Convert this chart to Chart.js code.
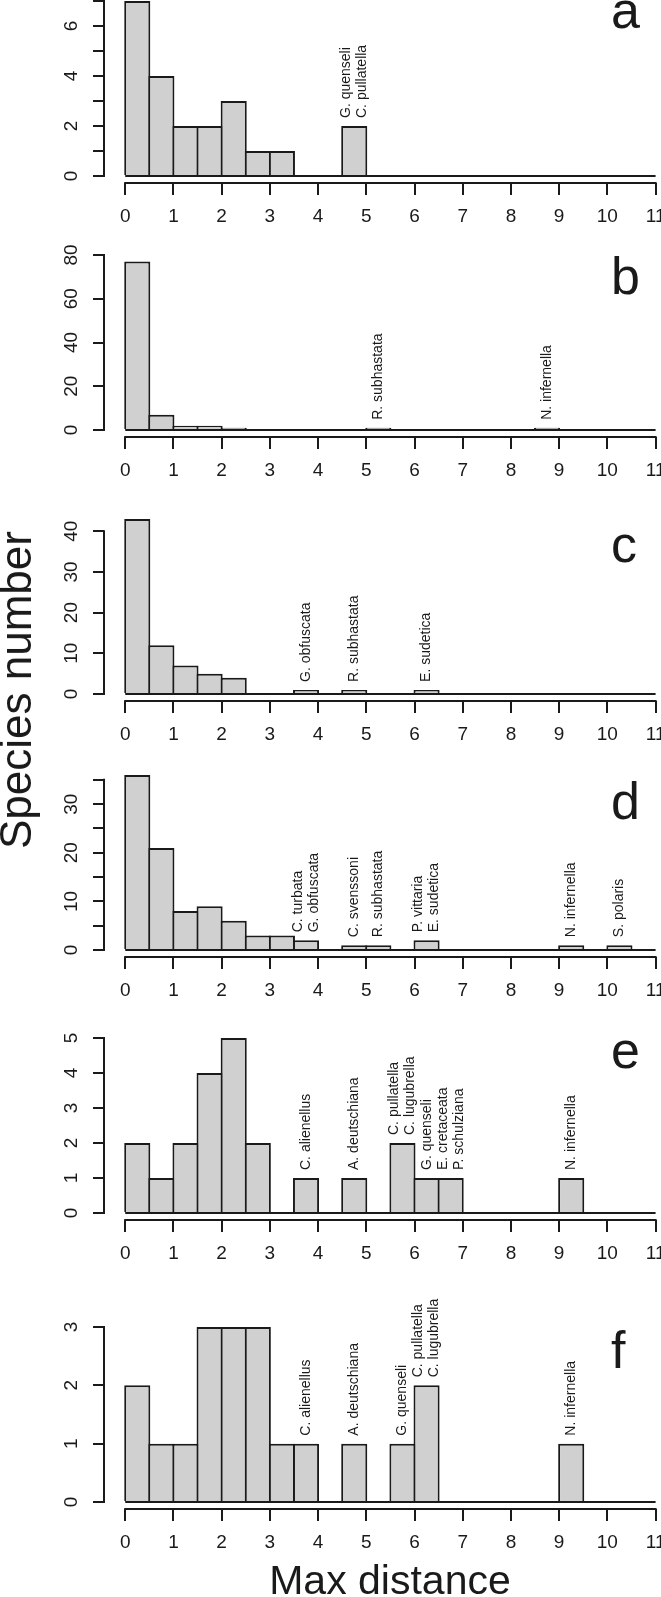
<!DOCTYPE html>
<html>
<head>
<meta charset="utf-8">
<script src="https://cdn.jsdelivr.net/npm/chart.js@4.4.0/dist/chart.umd.min.js"></script>
<style>
  html, body { margin: 0; padding: 0; width: 661px; height: 1597px; overflow: hidden; background: #fff; }
  body { position: relative; font-family: "Liberation Sans", Arial, sans-serif; color: #1a1a1a; }
  .panel { position: absolute; left: 0; width: 700px; height: 289px; }
  .letter { position: absolute; left: 611px; font-size: 52px; line-height: 52px; }
  .ylab { position: absolute; left: 16px; top: 690px; font-size: 44px; line-height: 44px; white-space: nowrap;
          transform: translate(-50%, -50%) rotate(-90deg); }
  .xlab { position: absolute; left: 190px; width: 400px; top: 1560px; text-align: center; font-size: 41px; line-height: 41px; white-space: nowrap; }
</style>
</head>
<body>

<script>
// histogram bins (0.5 wide, centres) and x ticks
const bins = [0.25, 0.75, 1.25, 1.75, 2.25, 2.75, 3.25, 3.75, 4.25, 4.75, 5.25,
              5.75, 6.25, 6.75, 7.25, 7.75, 8.25, 8.75, 9.25, 9.75, 10.25, 10.75];
const xTicks = [0, 1, 2, 3, 4, 5, 6, 7, 8, 9, 10, 11];

// species counts per bin
const countsA = [7, 4, 2, 2, 3, 1, 1, 0, 0, 2, 0, 0, 0, 0, 0, 0, 0, 0, 0, 0, 0, 0];
const countsB = [77, 7, 2, 2, 1, 0, 0, 0, 0, 0, 1, 0, 0, 0, 0, 0, 0, 1, 0, 0, 0, 0];
const countsC = [43, 12, 7, 5, 4, 0, 0, 1, 0, 1, 0, 0, 1, 0, 0, 0, 0, 0, 0, 0, 0, 0];
const countsD = [36, 21, 8, 9, 6, 3, 3, 2, 0, 1, 1, 0, 2, 0, 0, 0, 0, 0, 1, 0, 1, 0];
const countsE = [2, 1, 2, 4, 5, 2, 0, 1, 0, 1, 0, 2, 1, 1, 0, 0, 0, 0, 1, 0, 0, 0];
const countsF = [2, 1, 1, 3, 3, 3, 1, 1, 0, 1, 0, 1, 2, 0, 0, 0, 0, 0, 1, 0, 0, 0];

// y ticks and which of them carry a label
const yTicksA = [0, 1, 2, 3, 4, 5, 6, 7];
const yLabelsA = [0, 2, 4, 6];
const yTicksB = [0, 20, 40, 60, 80];
const yLabelsB = [0, 20, 40, 60, 80];
const yTicksC = [0, 10, 20, 30, 40];
const yLabelsC = [0, 10, 20, 30, 40];
const yTicksD = [0, 5, 10, 15, 20, 25, 30, 35];
const yLabelsD = [0, 10, 20, 30];
const yTicksE = [0, 1, 2, 3, 4, 5];
const yLabelsE = [0, 1, 2, 3, 4, 5];
const yTicksF = [0, 1, 2, 3];
const yLabelsF = [0, 1, 2, 3];

// species names written above single bars
const notesA = [{ x: 4.75, text: ['G. quenseli', 'C. pullatella'] }];
const notesB = [{ x: 5.25, text: ['R. subhastata'] }, { x: 8.75, text: ['N. infernella'] }];
const notesC = [{ x: 3.75, text: ['G. obfuscata'] }, { x: 4.75, text: ['R. subhastata'] },
                { x: 6.25, text: ['E. sudetica'] }];
const notesD = [{ x: 3.75, text: ['C. turbata', 'G. obfuscata'] }, { x: 4.75, text: ['C. svenssoni'] },
                { x: 5.25, text: ['R. subhastata'] }, { x: 6.25, text: ['P. vittaria', 'E. sudetica'] },
                { x: 9.25, text: ['N. infernella'] }, { x: 10.25, text: ['S. polaris'] }];
const notesE = [{ x: 3.75, text: ['C. alienellus'] }, { x: 4.75, text: ['A. deutschiana'] },
                { x: 5.75, text: ['C. pullatella', 'C. lugubrella'] },
                { x: 6.6, text: ['G. quenseli', 'E. cretaceata', 'P. schulziana'] },
                { x: 9.25, text: ['N. infernella'] }];
const notesF = [{ x: 3.75, text: ['C. alienellus'] }, { x: 4.75, text: ['A. deutschiana'] },
                { x: 5.75, text: ['G. quenseli'] }, { x: 6.25, text: ['C. pullatella', 'C. lugubrella'] },
                { x: 9.25, text: ['N. infernella'] }];

const ink = '#1a1a1a';
const fontFamily = '"Liberation Sans", Arial, sans-serif';
const tickFont = 19;

const panels = [
  { letter: 'a', counts: countsA, yMax: 7,  yTicks: yTicksA, yLabels: yLabelsA, notes: notesA, top: -6,   letterTop: -16 },
  { letter: 'b', counts: countsB, yMax: 80, yTicks: yTicksB, yLabels: yLabelsB, notes: notesB, top: 248,  letterTop: 250 },
  { letter: 'c', counts: countsC, yMax: 43, yTicks: yTicksC, yLabels: yLabelsC, notes: notesC, top: 512,  letterTop: 518 },
  { letter: 'd', counts: countsD, yMax: 36, yTicks: yTicksD, yLabels: yLabelsD, notes: notesD, top: 768,  letterTop: 775 },
  { letter: 'e', counts: countsE, yMax: 5,  yTicks: yTicksE, yLabels: yLabelsE, notes: notesE, top: 1031, letterTop: 1024 },
  { letter: 'f', counts: countsF, yMax: 3,  yTicks: yTicksF, yLabels: yLabelsF, notes: notesF, top: 1320, letterTop: 1324 }
];

// R style axes: baseline of the bins, detached axis lines, rotated species names
const rAxes = {
  id: 'rAxes',
  afterDraw(chart, args, opts) {
    const ctx = chart.ctx;
    const xs = chart.scales.x, ys = chart.scales.y;
    const area = chart.chartArea;
    const x0 = xs.getPixelForValue(xTicks[0]);
    const x1 = xs.getPixelForValue(xTicks[xTicks.length - 1]);
    ctx.save();
    ctx.strokeStyle = ink;
    ctx.lineWidth = 2;
    ctx.beginPath();
    ctx.moveTo(x0, ys.getPixelForValue(0));
    ctx.lineTo(x1, ys.getPixelForValue(0));
    ctx.moveTo(x0 - 1, area.bottom);
    ctx.lineTo(x1 + 1, area.bottom);
    ctx.moveTo(area.left, ys.getPixelForValue(opts.yTicks[0]) + 1);
    ctx.lineTo(area.left, ys.getPixelForValue(opts.yTicks[opts.yTicks.length - 1]) - 1);
    ctx.stroke();

    ctx.fillStyle = ink;
    ctx.font = '14px ' + fontFamily;
    ctx.textAlign = 'left';
    ctx.textBaseline = 'middle';
    opts.notes.forEach(n => {
      const bin = bins.findIndex(b => Math.abs(b - n.x) <= 0.25);
      const px = xs.getPixelForValue(n.x);
      const py = ys.getPixelForValue(opts.counts[bin]) - 8;
      n.text.forEach((t, i) => {
        ctx.save();
        ctx.translate(px + (i - (n.text.length - 1) / 2) * 16, py);
        ctx.rotate(-Math.PI / 2);
        ctx.fillText(t, 0, 0);
        ctx.restore();
      });
    });
    ctx.restore();
  }
};

panels.forEach(p => {
  const box = document.createElement('div');
  box.className = 'panel';
  box.style.top = (p.top - 40) + 'px';
  const cv = document.createElement('canvas');
  box.appendChild(cv);
  document.body.appendChild(box);

  const lab = document.createElement('div');
  lab.className = 'letter';
  lab.style.top = p.letterTop + 'px';
  lab.textContent = p.letter;
  document.body.appendChild(lab);

  const twoDigit = p.yLabels[p.yLabels.length - 1] >= 10;

  new Chart(cv.getContext('2d'), {
    type: 'bar',
    data: {
      datasets: [{
        data: bins.map((b, i) => ({ x: b, y: p.counts[i] })),
        backgroundColor: '#d0d0d0',
        borderColor: ink,
        borderWidth: 2,
        borderSkipped: 'start',
        barPercentage: 1.083,
        categoryPercentage: 1
      }]
    },
    options: {
      responsive: true,
      maintainAspectRatio: false,
      animation: false,
      events: [],
      layout: { padding: { top: 40, left: 0, right: 23.2, bottom: 10 } },
      scales: {
        x: {
          type: 'linear',
          offset: false,
          min: -0.44,
          max: 11.44,
          afterBuildTicks: s => { s.ticks = xTicks.map(v => ({ value: v })); },
          afterFit: s => { s.height = 50; },
          border: { display: false },
          grid: { offset: false, drawOnChartArea: false, drawTicks: true, tickLength: 12,
                  lineWidth: 2, tickWidth: 2, tickColor: ink },
          ticks: { autoSkip: false, maxRotation: 0, padding: 10, color: ink,
                   font: { family: fontFamily, size: tickFont }, callback: v => String(v) }
        },
        y: {
          min: -0.04 * p.yMax,
          max: 1.04 * p.yMax,
          afterBuildTicks: s => { s.ticks = p.yTicks.map(v => ({ value: v })); },
          afterFit: s => { s.width = 104; },
          border: { display: false },
          grid: { drawOnChartArea: false, drawTicks: true, tickLength: 11, lineWidth: 2, tickWidth: 2, tickColor: ink },
          ticks: { autoSkip: false, minRotation: 90, maxRotation: 90, crossAlign: 'center',
                   padding: twoDigit ? 10.5 : 16, color: ink,
                   font: { family: fontFamily, size: tickFont },
                   callback: v => p.yLabels.includes(v) ? String(v) : '' }
        }
      },
      plugins: {
        legend: { display: false },
        tooltip: { enabled: false },
        rAxes: { counts: p.counts, yTicks: p.yTicks, notes: p.notes }
      }
    },
    plugins: [rAxes]
  });
});
</script>
<div class="ylab">Species number</div>
<div class="xlab">Max distance</div>
</body>
</html>
